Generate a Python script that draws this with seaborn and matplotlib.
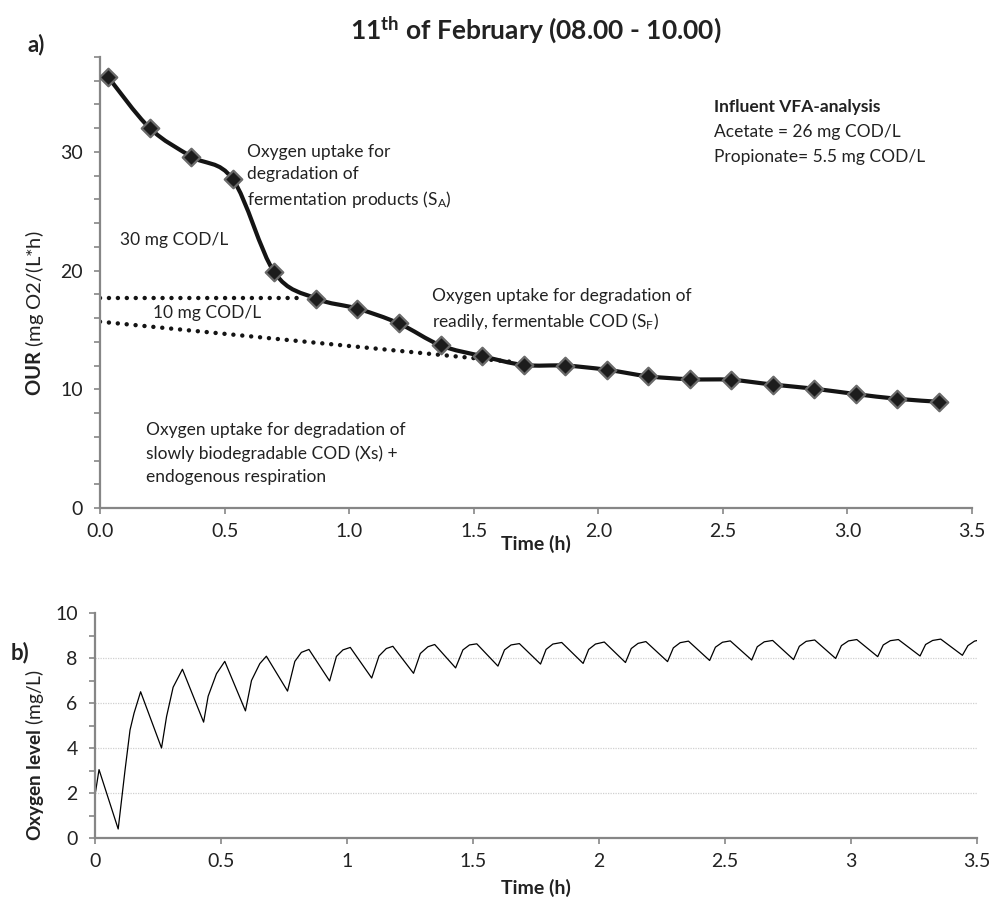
import numpy as np
import pandas as pd
import matplotlib
matplotlib.use("Agg")
import matplotlib.pyplot as plt
import seaborn as sns
from matplotlib.path import Path
from matplotlib.patches import PathPatch
from matplotlib.ticker import MultipleLocator, FixedLocator

# ---------------- data ----------------
our_time = [0.033, 0.200, 0.367, 0.533, 0.700, 0.867, 1.033, 1.200, 1.367, 1.533, 1.700,
            1.867, 2.033, 2.200, 2.367, 2.533, 2.700, 2.867, 3.033, 3.200, 3.367]
our_rate = [36.3, 32.0, 29.6, 27.7, 19.85, 17.65, 16.8, 15.55, 13.7, 12.8, 12.05,
            12.0, 11.65, 11.1, 10.85, 10.8, 10.4, 10.05, 9.6, 9.2, 8.95]

guide_sa_x = [0.0, 0.82]
guide_sa_y = [17.7, 17.7]
guide_sf_x = [0.0, 1.66]
guide_sf_y = [15.7, 12.3]

o2_time = [0.000, 0.016, 0.092, 0.119, 0.139, 0.155, 0.181, 0.264, 0.284, 0.310, 0.347,
           0.431, 0.449, 0.482, 0.515, 0.597, 0.621, 0.654, 0.680, 0.764, 0.793, 0.819,
           0.849, 0.931, 0.958, 0.984, 1.013, 1.098, 1.127, 1.156, 1.182, 1.264, 1.291,
           1.321, 1.348, 1.431, 1.460, 1.486, 1.515, 1.599, 1.625, 1.651, 1.684, 1.768,
           1.790, 1.817, 1.852, 1.937, 1.959, 1.986, 2.021, 2.105, 2.128, 2.155, 2.186,
           2.272, 2.295, 2.322, 2.355, 2.439, 2.462, 2.490, 2.521, 2.606, 2.628, 2.656,
           2.689, 2.772, 2.795, 2.822, 2.856, 2.939, 2.962, 2.990, 3.023, 3.106, 3.128,
           3.156, 3.188, 3.274, 3.296, 3.324, 3.356, 3.442, 3.464, 3.490, 3.510]
o2_level = [1.90, 3.04, 0.40, 3.00, 4.80, 5.55, 6.50, 4.00, 5.40, 6.70, 7.50,
            5.15, 6.30, 7.30, 7.85, 5.65, 7.00, 7.75, 8.08, 6.53, 7.85, 8.25,
            8.38, 6.98, 8.07, 8.36, 8.47, 7.11, 8.09, 8.42, 8.52, 7.32, 8.20,
            8.50, 8.60, 7.56, 8.36, 8.58, 8.63, 7.64, 8.36, 8.58, 8.64, 7.73,
            8.38, 8.62, 8.69, 7.76, 8.38, 8.62, 8.71, 7.80, 8.42, 8.65, 8.73,
            7.84, 8.45, 8.68, 8.75, 7.89, 8.48, 8.70, 8.76, 7.91, 8.50, 8.72,
            8.78, 7.93, 8.52, 8.74, 8.80, 7.98, 8.55, 8.76, 8.82, 8.06, 8.58,
            8.77, 8.82, 8.09, 8.60, 8.78, 8.84, 8.12, 8.55, 8.75, 8.80]

top_xticks = [0.0, 0.5, 1.0, 1.5, 2.0, 2.5, 3.0, 3.5]
top_xticklabels = ["0.0", "0.5", "1.0", "1.5", "2.0", "2.5", "3.0", "3.5"]
top_yticks = [0, 10, 20, 30]
bot_xticks = [0.0, 0.5, 1.0, 1.5, 2.0, 2.5, 3.0, 3.5]
bot_xticklabels = ["0", "0.5", "1", "1.5", "2", "2.5", "3", "3.5"]
bot_yticks = [0, 2, 4, 6, 8, 10]

assert len(o2_time) == len(o2_level)

# ---------------- style ----------------
sns.set_theme(style="white")
plt.rcParams['font.family'] = ['Lato', 'DejaVu Sans']
plt.rcParams['mathtext.fontset'] = 'custom'
plt.rcParams['mathtext.rm'] = 'Lato'
plt.rcParams['mathtext.it'] = 'Lato:italic'
plt.rcParams['mathtext.bf'] = 'Lato:bold'
plt.rcParams['mathtext.sf'] = 'Lato'

SPINE = '#868686'
TXT = '#222222'
ANN = 12.5
LS = 1.45

fig = plt.figure(figsize=(9.91, 9.02), dpi=100)
ax1 = fig.add_axes([100 / 991, 1 - 508 / 902, 872 / 991, 451 / 902])
ax2 = fig.add_axes([95 / 991, 1 - 838 / 902, 882 / 991, 225 / 902])


def style_axes(ax):
    for s in ['top', 'right']:
        ax.spines[s].set_visible(False)
    for s in ['left', 'bottom']:
        ax.spines[s].set_color(SPINE)
        ax.spines[s].set_linewidth(1.6)
    ax.tick_params(axis='both', which='both', direction='out', length=4.5, width=1.2,
                   color=SPINE, labelsize=14, labelcolor=TXT)
    ax.tick_params(axis='y', which='both', pad=8, left=True)
    ax.tick_params(axis='x', which='both', pad=6, bottom=True)


# ---------------- top panel ----------------
P = np.column_stack([our_time, our_rate])
verts = [P[0]]
codes = [Path.MOVETO]
n = len(P)
for i in range(n - 1):
    p0 = P[i - 1] if i > 0 else P[i]
    p3 = P[i + 2] if i + 2 < n else P[i + 1]
    c1 = P[i] + (P[i + 1] - p0) / 6.0
    c2 = P[i + 1] - (p3 - P[i]) / 6.0
    verts += [c1, c2, P[i + 1]]
    codes += [Path.CURVE4] * 3
ax1.add_patch(PathPatch(Path(verts, codes), fill=False, lw=3.0, ec='#141414',
                        capstyle='round', joinstyle='round', zorder=3))

sns.lineplot(x=guide_sa_x, y=guide_sa_y, ax=ax1, color='#141414', lw=3.2,
             linestyle=(0, (0.01, 2.0)), dash_capstyle='round', zorder=2)
sns.lineplot(x=guide_sf_x, y=guide_sf_y, ax=ax1, color='#141414', lw=3.2,
             linestyle=(0, (0.01, 2.0)), dash_capstyle='round', zorder=2)

sns.scatterplot(x=our_time, y=our_rate, ax=ax1, marker='D', s=80, color='#1c1c1c',
                edgecolor='#6a6a6a', linewidth=1.6, zorder=4)

ax1.set_xlim(0, 3.5)
ax1.set_ylim(0, 38)
ax1.xaxis.set_major_locator(FixedLocator(top_xticks))
ax1.set_xticklabels(top_xticklabels)
ax1.yaxis.set_major_locator(FixedLocator(top_yticks))
ax1.yaxis.set_minor_locator(MultipleLocator(2))
style_axes(ax1)
ax1.set_xlabel('')
ax1.set_ylabel('')

ax1.text(0.59, 27.85, "Oxygen uptake for\ndegradation of\nfermentation products (S$_\\mathrm{A}$)",
         fontsize=ANN, color=TXT, ha='left', va='center', linespacing=LS)
ax1.text(0.08, 22.6, "30 mg COD/L", fontsize=ANN, color=TXT, ha='left', va='center')
ax1.text(0.213, 16.4, "10 mg COD/L", fontsize=ANN, color=TXT, ha='left', va='center')
ax1.text(1.332, 16.7, "Oxygen uptake for degradation of\nreadily, fermentable COD (S$_\\mathrm{F}$)",
         fontsize=ANN, color=TXT, ha='left', va='center', linespacing=LS)
ax1.text(0.185, 4.6, "Oxygen uptake for degradation of\nslowly biodegradable COD (Xs) +\nendogenous respiration",
         fontsize=ANN, color=TXT, ha='left', va='center', linespacing=1.55)
ax1.text(2.464, 33.8, "Influent VFA-analysis", fontsize=ANN, color=TXT, ha='left',
         va='center', fontweight='bold')
ax1.text(2.464, 31.7, "Acetate = 26 mg COD/L", fontsize=ANN, color=TXT, ha='left', va='center')
ax1.text(2.464, 29.6, "Propionate= 5.5 mg COD/L", fontsize=ANN, color=TXT, ha='left', va='center')

# ---------------- bottom panel ----------------
df_o2 = pd.DataFrame({'time': o2_time, 'o2': o2_level})
sns.lineplot(data=df_o2, x='time', y='o2', ax=ax2, color='black', lw=0.9,
             sort=False, estimator=None)
ax2.set_xlim(0, 3.5)
ax2.set_ylim(0, 10)
ax2.xaxis.set_major_locator(FixedLocator(bot_xticks))
ax2.set_xticklabels(bot_xticklabels)
ax2.yaxis.set_major_locator(FixedLocator(bot_yticks))
ax2.yaxis.set_minor_locator(MultipleLocator(1))
for g in [2, 4, 6, 8]:
    ax2.axhline(g, color='#d0d0d0', lw=0.9, ls=(0, (1, 1)), zorder=0)
style_axes(ax2)
ax2.set_xlabel('')
ax2.set_ylabel('')

# ---------------- labels ----------------
fig.text(536 / 991, 1 - 30 / 902, "11$^{\\mathbf{th}}$ of February (08.00 - 10.00)",
         fontsize=19, fontweight='bold', color=TXT, ha='center', va='center')
fig.text(36 / 991, 1 - 45 / 902, "a)", fontsize=16, fontweight='bold', color=TXT,
         ha='center', va='center')
fig.text(20 / 991, 1 - 653 / 902, "b)", fontsize=16, fontweight='bold', color=TXT,
         ha='center', va='center')
fig.text(536 / 991, 1 - 544 / 902, "Time (h)", fontsize=14, fontweight='bold', color=TXT,
         ha='center', va='center')
fig.text(536 / 991, 1 - 888 / 902, "Time (h)", fontsize=14, fontweight='bold', color=TXT,
         ha='center', va='center')
fig.text(35 / 991, 1 - 313 / 902, "$\\mathbf{OUR}$ (mg O2/(L*h)", fontsize=14.5, color=TXT,
         rotation=90, ha='center', va='center')
fig.text(35 / 991, 1 - 755 / 902, "$\\mathbf{Oxygen\\ level}$ (mg/L)", fontsize=13.8, color=TXT,
         rotation=90, ha='center', va='center')

fig.savefig("out.png", dpi=100, facecolor='white')
